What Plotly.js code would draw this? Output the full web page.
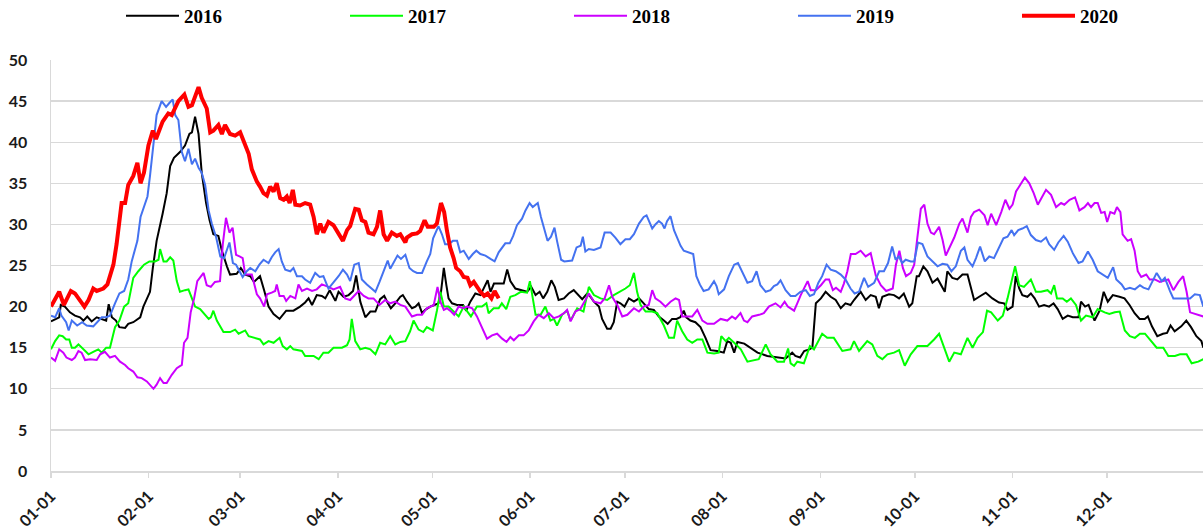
<!DOCTYPE html>
<html>
<head>
<meta charset="utf-8">
<script src="https://cdn.plot.ly/plotly-3.0.1.min.js"></script>
<style>
  html, body { margin: 0; padding: 0; background: #ffffff; }
  #chart { width: 1203px; height: 532px; }
</style>
</head>
<body>
<div id="chart"></div>
<script>
// ---------- DATA (x = day of year, 0 = 01-01; y = value) ----------
const years = ['2016', '2017', '2018', '2019', '2020'];
const monthStartDays = [0, 31, 60, 91, 121, 152, 182, 213, 244, 274, 305, 335];
const monthTickLabels = ['01-01', '02-01', '03-01', '04-01', '05-01', '06-01',
                         '07-01', '08-01', '09-01', '10-01', '11-01', '12-01'];

const days2016 = [0,1.3,2.6,3.1,4.4,6.0,7.6,9.2,10.3,11.5,12.9,14.5,16.1,17.5,18.3,19.3,20.6,21.7,23.5,24.5,26.1,28.3,29.3,30.4,31.4,32.3,33.5,35.4,36.7,37.8,39.0,40.9,42.5,43.9,44.7,45.7,46.8,47.8,49.2,50.3,51.5,53.1,54.2,55.8,56.8,58.9,60.2,61.6,63.2,64.4,66.3,67.6,69.0,70.6,72.5,74.6,76.9,79.0,80.6,81.7,82.8,84.3,85.9,87.0,88.4,90.2,91.2,92.8,94.4,95.8,96.8,98.1,99.7,101.3,102.9,104.4,105.7,106.6,107.8,109.2,110.8,111.6,112.9,114.5,115.6,116.6,117.7,118.7,120.3,121.6,122.9,123.7,124.6,125.4,126.1,127.2,128.8,130.7,131.7,133.0,134.6,136.2,137.4,138.5,139.4,140.5,142.0,143.6,144.7,145.7,147.3,149.0,151.0,152.3,153.7,155.0,156.1,157.4,158.7,159.8,161.0,162.7,164.2,165.8,167.4,168.5,170.1,171.1,172.2,173.8,174.8,176.4,177.5,178.5,179.6,180.6,181.9,183.3,184.9,186.5,188.0,189.6,191.2,192.8,194.4,195.6,197.0,198.4,199.6,200.7,201.5,202.8,204.4,206.0,207.6,209.2,211.3,213.4,214.5,215.6,216.7,217.7,219.9,221.9,224.1,227.2,230.4,233.0,235.1,236.1,237.6,238.9,240.5,241.5,242.6,244.2,245.7,247.3,248.9,250.5,252.0,253.6,254.7,256.8,258.4,260.0,261.6,262.6,263.7,265.8,267.4,269.0,270.5,272.2,273.2,274.6,275.3,276.7,278.0,279.6,281.2,282.0,283.5,284.3,285.9,287.5,289.1,290.7,292.8,294.4,296.5,298.6,300.7,302.3,303.4,305.0,306.0,307.1,308.1,309.7,310.8,312.0,313.4,315.0,316.6,318.0,319.3,320.9,322.5,324.1,325.9,326.7,328.0,329.1,330.1,331.0,332.6,333.9,335.2,336.8,338.9,340.5,342.1,343.7,345.3,346.9,347.9,349.2,350.9,352.7,354.0,355.1,356.4,358.5,360.1,361.6,363.3,364.9,365.5];
const vals2016 = [18.2,18.5,18.7,20.2,20.0,19.3,18.9,18.7,18.3,18.8,18.2,18.7,18.5,18.3,20.3,18.7,18.3,17.5,17.4,17.9,18.1,18.7,20.0,21.0,21.8,24.7,28.0,31.3,33.8,37.1,38.1,38.8,39.6,41.0,41.2,43.1,41.0,36.3,32.6,30.5,28.8,28.6,26.8,24.9,23.9,24.0,24.7,23.9,23.7,23.0,23.7,22.0,20.0,19.1,18.5,19.5,19.5,20.0,20.5,21.0,20.2,21.4,21.3,21.0,22.0,20.7,21.8,21.2,21.4,21.9,23.8,20.6,18.7,19.4,19.4,20.9,21.3,20.6,19.8,20.4,21.2,21.4,20.6,19.8,20.0,20.4,19.2,19.6,20.0,20.2,20.4,21.8,24.7,22.6,21.0,20.4,20.2,20.2,19.5,20.6,21.6,21.4,22.4,23.2,21.8,22.8,22.8,22.8,24.5,23.1,22.2,22.0,21.8,22.4,21.4,21.8,21.0,21.8,23.2,22.4,20.8,21.0,21.6,22.0,21.4,20.9,21.6,21.2,20.6,20.0,18.5,17.3,17.3,18.1,20.6,20.4,20.0,21.0,20.6,21.0,20.4,19.7,19.6,18.8,18.3,17.9,18.5,18.5,18.7,19.5,18.7,18.3,18.1,17.5,16.2,14.7,14.6,14.4,15.8,15.6,14.4,15.7,15.5,15.0,14.4,14.0,13.8,13.7,14.4,14.0,13.8,14.6,14.8,15.0,20.4,21.0,21.8,21.2,20.8,19.8,20.4,20.2,20.8,21.8,20.8,21.4,21.2,19.8,21.2,21.5,21.4,21.0,21.6,20.0,20.4,23.7,23.7,24.9,24.3,22.9,23.4,22.9,21.8,24.3,23.5,23.3,23.9,23.9,20.8,21.2,21.7,21.0,20.5,20.4,19.6,20.0,23.7,22.2,21.4,21.2,21.6,21.0,20.0,20.2,20.0,20.4,19.7,18.5,18.9,18.7,18.7,20.6,20.0,20.2,19.3,18.3,19.5,21.8,20.6,21.4,21.2,21.0,20.2,19.2,18.5,18.5,18.8,17.6,16.4,16.7,16.8,17.7,17.0,17.6,18.3,17.5,16.4,15.8,15.0];

const days2017 = [0,1.3,2.6,3.7,4.8,5.8,6.6,7.6,8.7,10.3,11.9,13.4,15.0,16.1,17.5,18.7,20.3,21.7,23.2,24.5,26.1,27.7,29.5,31.2,33.0,34.1,34.6,35.7,36.7,37.8,38.8,39.9,40.9,42.5,43.6,44.7,45.7,47.3,48.9,50.0,50.7,51.5,52.6,54.7,56.8,58.4,59.5,61.6,62.7,64.2,66.3,67.4,69.0,70.6,72.5,73.5,74.8,75.9,76.9,79.6,80.6,83.3,84.9,86.4,88.0,89.6,92.3,93.9,94.7,95.4,96.5,98.1,99.7,101.3,102.9,104.4,106.0,107.6,109.2,110.8,112.4,113.9,115.0,116.6,118.1,119.2,121.1,122.4,123.5,124.6,126.1,127.7,129.3,130.9,132.1,133.2,135.1,136.7,138.1,138.8,140.4,142.0,143.0,144.4,145.7,147.3,149.0,151.0,151.9,152.6,153.7,155.3,156.8,158.4,159.5,160.5,162.1,163.7,164.8,166.9,168.9,170.6,172.2,174.3,176.4,178.5,180.6,182.2,183.6,184.9,185.9,187.0,188.6,190.7,192.3,194.4,196.0,197.6,198.6,200.2,201.8,203.4,205.0,206.6,208.2,210.3,211.8,212.6,214.0,215.0,216.7,218.8,220.9,224.5,226.7,228.2,230.4,232.5,233.8,234.6,235.7,236.7,238.8,239.9,240.7,242.0,244.6,246.2,248.3,251.0,253.6,254.7,256.3,258.9,260.5,262.1,263.7,265.3,267.4,269.0,270.8,272.7,274.8,276.4,278.0,280.1,281.7,284.9,286.5,288.6,290.7,292.3,293.9,295.6,296.9,298.2,300.3,301.9,303.4,305.8,307.1,308.6,310.8,312.4,314.0,316.1,317.2,318.2,319.1,320.9,322.2,323.5,325.1,326.7,328.3,330.4,332.0,334.2,335.7,337.4,339.0,340.6,342.2,343.8,345.4,347.0,348.5,350.7,352.8,354.4,356.5,358.1,360.2,361.8,363.9,365.5];
const vals2017 = [14.8,15.8,16.5,16.4,16.0,16.0,15.0,15.0,15.4,14.8,14.2,14.5,14.8,14.4,15.0,15.0,17.5,18.3,20.0,20.4,23.5,24.3,25.1,25.5,25.5,25.7,27.0,25.5,25.5,26.0,25.6,23.1,21.8,22.0,22.1,21.0,20.0,19.7,19.0,18.5,18.7,19.5,18.3,16.9,16.9,17.2,16.7,17.1,16.4,16.2,16.0,15.4,15.8,15.6,16.2,15.2,14.8,15.2,14.8,14.6,14.0,14.0,13.6,14.4,14.4,15.0,15.0,15.3,16.0,18.5,15.8,14.8,15.0,14.8,14.2,15.6,15.4,16.4,15.4,15.7,15.8,17.0,18.3,17.2,16.9,17.5,17.1,19.5,21.8,20.0,20.0,19.4,18.8,20.0,19.4,18.8,20.0,20.0,20.4,19.2,19.8,19.8,20.4,19.7,21.2,21.4,21.8,21.7,23.1,21.4,19.0,19.0,20.0,18.3,18.5,17.7,19.0,19.5,18.3,19.8,19.4,22.4,21.4,21.0,20.8,21.4,21.8,22.2,22.6,24.1,21.8,20.2,19.4,19.4,19.2,17.7,16.2,16.2,18.3,17.0,16.0,15.6,16.0,16.0,14.4,14.3,14.4,16.4,15.8,16.2,15.6,14.8,13.3,13.6,15.4,14.2,13.3,13.3,14.9,13.1,12.8,13.3,13.1,14.4,15.2,14.8,16.7,16.2,16.2,14.6,14.8,15.8,14.6,15.8,15.4,14.0,13.6,14.2,14.4,14.7,12.8,14.2,15.2,15.2,15.2,16.0,16.7,13.3,14.4,14.2,16.2,15.0,16.2,16.9,19.5,19.3,18.3,18.9,21.0,24.9,22.6,22.4,23.3,21.8,21.8,22.0,21.6,22.6,21.0,21.0,20.6,21.0,20.2,18.3,18.9,18.7,19.7,19.3,19.1,19.3,19.4,17.1,16.4,16.2,16.7,16.7,16.0,15.0,15.0,14.0,14.0,14.2,14.2,13.1,13.3,13.6];

const days2018 = [0,1.3,2.6,3.9,4.9,6.6,7.6,8.7,9.7,10.8,12.4,14.5,15.6,17.1,18.7,20.3,21.9,23.5,24.5,26.1,27.4,28.8,30.4,31.4,32.5,33.5,34.6,35.7,36.7,38.3,39.9,41.5,42.2,43.3,44.3,45.4,46.4,48.4,49.4,50.7,52.0,53.6,54.5,55.5,56.6,57.6,58.7,59.8,60.8,61.6,63.7,65.3,66.3,67.6,68.5,70.0,71.1,71.6,72.5,73.8,74.6,75.9,77.5,78.5,79.6,81.2,82.8,84.3,85.9,88.0,89.6,91.7,93.3,94.9,96.5,97.6,99.2,100.7,102.3,104.2,106.0,107.6,109.2,110.8,112.4,114.5,116.1,117.7,119.2,121.4,122.6,123.5,124.6,125.6,126.9,127.9,129.3,130.7,132.0,133.6,135.1,136.7,138.3,139.9,141.5,143.1,144.5,145.7,146.8,148.4,149.9,151.5,153.1,154.7,156.3,157.9,159.5,161.1,162.7,163.7,164.8,166.3,167.9,169.5,170.6,172.2,174.3,175.6,177.0,178.0,179.6,181.2,182.8,184.9,186.5,188.0,189.6,190.7,191.7,193.3,194.9,196.5,198.1,199.2,200.2,201.8,203.4,205.0,206.6,208.2,210.3,212.4,214.5,216.0,217.1,218.7,219.8,220.9,222.4,224.6,226.1,227.7,229.8,231.4,232.7,233.7,235.7,236.7,237.8,240.0,241.0,242.6,244.2,245.7,246.8,248.0,249.0,250.5,251.5,252.6,253.7,255.2,256.8,258.4,260.0,261.6,263.2,264.9,267.0,268.0,269.1,270.2,271.2,272.7,273.8,274.8,275.9,277.0,278.0,279.1,280.1,281.7,282.8,283.8,285.4,286.5,288.1,289.1,290.7,291.8,292.8,294.4,296.1,297.1,298.2,299.8,301.4,302.7,304.0,305.0,306.1,307.5,308.9,310.3,311.7,313.0,314.2,315.6,317.2,318.8,320.4,321.4,323.1,324.8,326.2,327.8,328.9,329.9,331.0,332.0,333.1,334.2,335.0,336.0,337.3,338.1,339.2,339.9,341.5,342.6,343.7,344.7,345.8,347.4,348.5,350.1,351.7,354.4,356.0,357.6,359.1,360.2,361.3,363.3,365.5];
const vals2018 = [13.8,13.4,14.8,14.4,13.8,13.5,13.8,14.6,14.4,13.5,13.6,13.5,14.2,14.5,13.8,14.0,13.3,12.9,12.5,12.1,11.4,11.3,10.9,10.5,10.0,10.5,11.3,10.7,10.7,11.7,12.5,12.9,15.6,16.2,19.3,21.0,23.1,24.1,22.6,22.4,23.0,23.1,27.6,30.8,29.0,29.6,26.3,26.1,25.9,23.9,23.9,21.5,21.0,20.0,21.5,21.7,21.9,22.7,21.3,21.3,20.7,21.3,21.0,22.7,21.9,22.2,21.9,22.1,22.7,22.4,22.1,22.4,21.0,20.8,21.4,21.9,21.3,21.0,21.0,20.2,20.8,20.4,20.6,20.2,20.0,18.8,19.0,19.0,19.8,20.2,22.4,20.6,19.6,19.8,19.4,19.0,20.0,19.8,20.0,19.8,18.8,17.5,16.1,16.5,16.7,16.1,15.7,16.3,15.9,16.5,16.5,17.1,18.2,19.0,18.6,19.2,18.6,18.8,19.2,19.6,18.2,19.4,19.7,20.8,21.6,20.6,20.4,21.0,22.6,21.2,20.2,18.8,19.0,19.8,19.4,20.0,20.2,22.0,21.0,20.6,20.0,20.6,21.0,20.8,18.8,18.8,18.8,19.6,18.3,17.9,17.9,18.5,18.3,18.8,18.5,19.2,18.3,18.1,18.8,19.0,19.2,20.0,20.4,19.9,20.6,20.0,19.5,20.4,21.4,23.1,22.0,22.0,22.6,23.3,23.3,22.0,22.3,21.8,22.8,24.3,26.4,26.4,26.8,26.1,26.5,23.8,22.6,21.9,22.2,25.1,26.8,24.7,23.7,24.1,25.1,28.4,31.9,32.4,30.1,29.0,28.8,29.7,28.1,26.2,27.4,28.4,30.1,30.7,29.0,30.9,31.5,31.8,31.1,29.9,31.3,29.9,31.5,33.0,31.9,32.4,34.0,34.8,35.7,35.0,33.8,32.4,33.2,34.2,33.6,32.1,32.6,32.4,33.0,33.3,31.7,32.1,32.6,32.1,32.6,32.6,31.4,31.5,30.3,31.5,31.3,32.1,31.5,28.8,28.0,28.2,26.8,24.3,23.6,23.9,23.3,23.3,23.0,23.3,22.0,23.0,23.7,21.8,19.3,19.1,18.8];

const days2019 = [0,1.3,2.6,3.3,4.8,5.6,6.6,8.3,9.9,11.3,13.4,14.7,16.1,17.5,18.7,20.3,21.7,23.2,24.5,25.6,27.4,28.4,29.5,30.6,31.4,32.5,33.5,35.1,36.5,37.6,38.6,39.4,40.4,41.5,42.5,43.6,44.7,45.7,46.8,47.8,48.9,50.0,51.0,52.4,53.7,54.9,56.6,57.7,58.7,59.8,60.8,62.1,63.2,64.8,66.1,67.4,69.0,70.0,71.1,72.2,73.2,74.3,75.9,76.9,78.0,79.6,80.6,82.2,83.8,85.2,86.4,88.0,89.6,91.2,92.6,93.9,94.9,96.2,97.6,98.6,100.2,101.8,102.9,104.2,105.5,106.8,107.6,108.9,109.9,111.0,112.4,113.7,114.9,116.1,117.7,119.2,120.3,121.2,122.2,122.9,124.0,125.0,126.1,127.5,128.8,129.8,130.9,132.5,133.8,134.9,136.2,137.8,139.4,140.7,142.0,143.0,144.1,145.5,146.6,147.8,149.4,150.5,151.8,152.8,154.4,155.4,156.5,157.5,158.6,159.7,160.5,161.8,162.8,165.3,166.7,168.0,168.7,169.5,170.6,172.2,174.3,175.6,177.5,179.0,180.6,182.2,183.6,184.9,186.5,188.0,188.9,189.6,190.7,191.7,192.8,193.8,194.6,195.4,196.5,197.6,198.6,199.7,200.7,202.3,203.7,204.7,205.8,207.0,208.6,210.3,211.1,211.8,213.5,215.0,216.7,217.9,219.3,220.9,222.4,223.8,225.0,226.7,228.2,229.3,230.4,231.4,233.0,234.6,236.1,237.7,239.4,240.7,242.0,243.4,244.6,246.0,247.3,248.9,250.5,252.0,253.6,254.9,256.3,257.9,259.2,261.1,262.7,264.2,265.5,266.8,267.9,268.9,270.0,271.1,272.7,273.8,275.0,276.4,278.0,279.6,281.2,282.8,284.3,285.6,287.0,288.6,289.7,290.7,292.3,293.4,294.7,296.2,297.6,299.1,300.7,302.1,303.4,304.7,305.5,306.8,308.1,309.5,310.8,312.4,314.0,315.6,316.6,318.2,319.5,321.2,322.5,324.1,325.9,327.2,328.9,330.4,332.0,333.6,335.2,336.9,337.9,339.6,340.6,342.2,343.8,345.4,346.5,348.1,350.7,352.3,353.3,354.9,356.0,357.0,359.1,361.3,362.8,364.4,365.5];
const vals2019 = [18.9,18.7,19.8,18.9,18.1,17.1,18.3,17.7,18.1,17.7,17.6,18.1,18.7,18.7,18.9,20.4,21.6,21.9,23.3,25.5,28.0,30.9,32.2,33.4,35.9,40.0,43.3,45.0,44.3,44.8,45.2,43.3,42.7,38.8,37.7,39.2,37.3,38.0,36.9,36.3,34.8,31.7,30.1,28.4,26.1,25.9,27.8,25.3,25.1,24.3,23.6,24.3,24.7,24.3,25.1,25.7,25.3,26.0,26.6,27.0,25.5,24.5,24.3,24.7,23.7,23.7,23.3,22.9,24.1,23.6,23.7,22.2,22.9,23.7,24.5,23.9,23.1,25.1,25.3,23.3,22.7,22.2,21.8,23.0,24.3,25.6,24.6,25.6,26.2,25.8,26.3,24.7,24.3,24.1,24.1,25.5,26.4,28.3,29.3,29.8,28.8,27.6,27.6,28.0,28.0,26.6,26.8,25.8,26.4,26.8,26.4,26.2,25.8,25.5,26.6,27.2,27.7,27.7,28.6,29.9,30.7,31.7,32.6,32.1,32.6,30.9,29.3,28.0,28.5,29.6,28.0,25.7,25.5,25.6,27.2,27.4,28.5,26.7,27.0,26.9,27.2,29.0,29.0,28.4,27.6,28.2,28.2,28.8,30.1,30.9,31.1,30.5,29.5,30.0,30.4,30.1,29.5,30.4,31.0,29.3,28.4,27.4,26.8,26.6,26.4,23.7,22.7,21.9,22.1,23.1,22.5,21.5,22.1,23.7,25.1,25.3,24.1,22.9,23.1,24.3,22.6,21.8,22.0,22.5,22.7,23.2,22.0,21.3,21.3,21.8,22.0,21.3,21.5,22.9,23.7,25.1,24.5,24.3,23.9,23.3,22.2,21.6,21.8,23.5,22.4,22.9,24.3,24.3,25.3,27.3,25.7,26.1,25.3,25.7,25.5,25.5,27.8,27.6,26.1,25.5,24.9,25.2,25.1,24.3,24.9,26.8,27.2,25.7,24.9,25.9,27.3,25.5,26.1,25.9,27.3,28.3,28.5,29.3,28.7,29.3,29.5,29.8,28.7,28.1,27.9,28.4,27.6,26.9,27.8,28.6,27.9,26.5,25.3,25.5,26.7,25.7,24.3,23.9,23.5,24.8,23.3,22.7,22.1,22.3,22.1,22.6,22.3,22.1,24.1,23.1,23.5,21.9,21.0,21.0,21.0,21.0,21.5,21.4,20.0];

const days2020 = [0,2.6,4.1,6.3,7.6,9.7,10.6,11.9,13.4,14.5,16.6,17.9,19.8,20.8,22.4,23.5,24.5,26.1,27.4,28.4,29.5,30.9,32.3,33.3,35.4,37.2,38.3,40.4,42.3,43.6,44.7,46.8,47.8,49.4,50.5,51.5,53.1,54.2,55.2,56.8,58.4,60.0,61.6,62.7,63.7,65.3,66.3,67.4,68.5,69.5,70.6,71.6,72.7,73.8,74.8,75.7,76.7,77.5,79.0,80.6,82.2,83.3,84.3,85.4,86.4,88.0,89.6,91.2,92.6,93.9,94.9,96.5,97.6,98.6,99.7,100.7,102.3,103.4,104.4,105.5,106.6,108.1,109.7,110.8,112.4,112.9,114.5,116.1,117.1,118.5,119.5,121.4,122.4,123.7,124.7,125.6,126.6,127.7,128.5,129.8,130.9,132.1,133.0,134.1,135.1,136.2,137.4,138.5,139.7,140.7,142.0];
const vals2020 = [20.0,21.8,20.2,21.9,21.6,20.6,20.0,20.8,22.2,21.9,22.2,22.7,25.1,27.6,32.6,32.6,34.8,35.9,37.5,35.0,36.3,39.6,41.4,40.4,42.5,43.5,43.3,45.0,45.8,44.3,44.5,46.7,45.4,44.1,41.2,41.4,42.1,41.0,42.1,41.0,40.8,41.2,39.6,38.6,36.7,35.2,34.6,33.8,33.5,34.6,34.0,35.0,33.2,33.0,33.4,32.6,34.2,32.4,32.3,32.6,32.4,30.9,28.8,30.1,29.0,30.3,29.9,29.0,28.0,29.3,29.8,31.9,31.8,30.5,30.3,29.0,28.8,29.7,31.7,28.8,28.0,29.0,28.6,28.8,27.8,28.4,28.8,28.9,29.2,30.5,29.7,29.7,30.1,32.6,31.5,29.2,27.2,25.9,24.7,24.3,23.6,23.5,22.6,23.0,22.4,21.8,21.3,21.6,21.0,21.9,21.0];

const dayArrays = [days2016, days2017, days2018, days2019, days2020];
const valArrays = [vals2016, vals2017, vals2018, vals2019, vals2020];

// ---------- STYLE ----------
const colors = ['#000000', '#00ff00', '#cc00ff', '#4472f0', '#ff0000'];
const widths = [2, 2, 2, 2, 4];
const gridColor = '#d9d9d9';
const tickFont = { family: 'Lato, "Open Sans", sans-serif', size: 16, color: '#1a1a1a', weight: 'bold' };

const traces = years.map((yr, i) => ({
  type: 'scatter',
  mode: 'lines',
  name: yr,
  x: dayArrays[i],
  y: valArrays[i],
  line: { color: colors[i], width: widths[i] },
  hoverinfo: 'skip'
}));

const layout = {
  width: 1203,
  height: 532,
  margin: { l: 51, r: 0, t: 60, b: 61, autoexpand: false },
  paper_bgcolor: '#ffffff',
  plot_bgcolor: '#ffffff',
  showlegend: true,
  legend: {
    orientation: 'h',
    xref: 'container', yref: 'paper',
    x: 121 / 1203, xanchor: 'left',
    y: 1 + 63 / 411, yanchor: 'top',
    entrywidth: 156, entrywidthmode: 'pixels',
    itemwidth: 53,
    font: { family: '"Liberation Serif", "Times New Roman", serif', size: 19, color: '#000000', weight: 'bold' },
    bgcolor: 'rgba(0,0,0,0)',
    traceorder: 'normal'
  },
  xaxis: {
    range: [0, 365.4],
    tickmode: 'array',
    tickvals: monthStartDays,
    ticktext: monthTickLabels,
    tickangle: -45,
    ticks: 'outside',
    ticklen: 5,
    tickwidth: 1.5,
    tickcolor: gridColor,
    ticklabelstandoff: 3,
    showgrid: false,
    zeroline: false,
    showline: true,
    linecolor: gridColor,
    linewidth: 1.5,
    tickfont: tickFont,
    fixedrange: true
  },
  yaxis: {
    range: [0, 50],
    tickmode: 'linear',
    tick0: 0,
    dtick: 5,
    showgrid: true,
    gridcolor: gridColor,
    gridwidth: 1.3,
    zeroline: false,
    showline: true,
    linecolor: gridColor,
    linewidth: 1.5,
    ticks: '',
    ticklabelstandoff: 19,
    tickfont: tickFont,
    fixedrange: true
  }
};

Plotly.newPlot('chart', traces, layout, { displayModeBar: false, staticPlot: true });
</script>
</body>
</html>
